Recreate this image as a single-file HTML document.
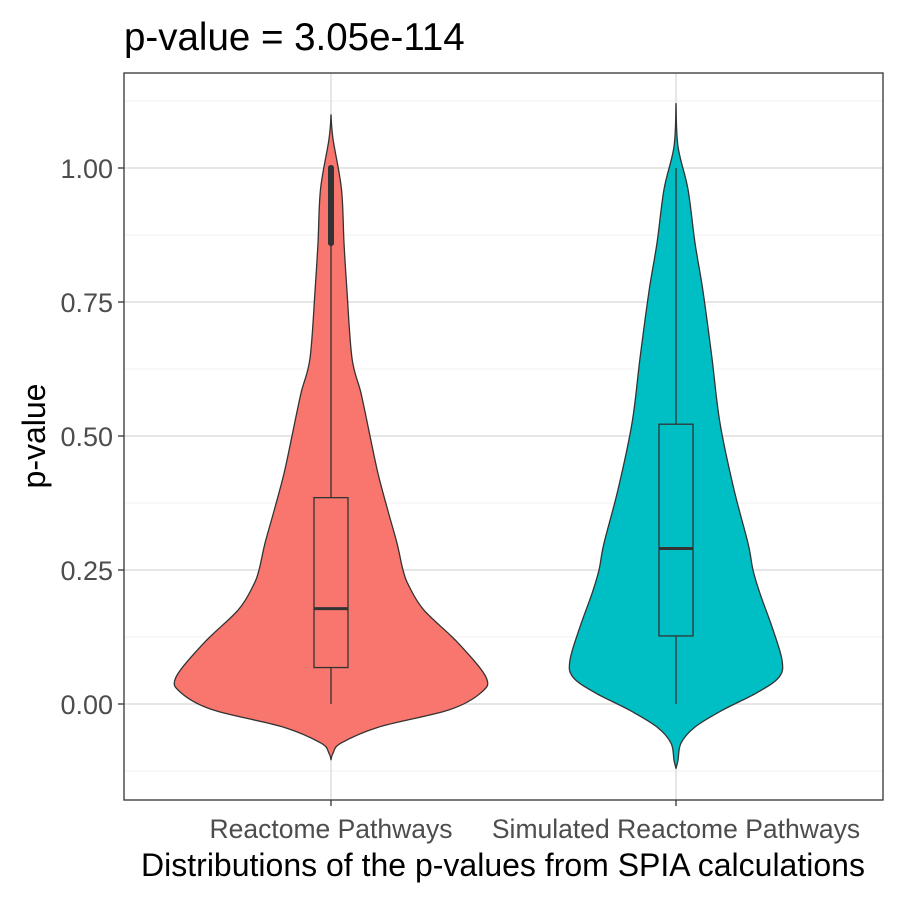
<!DOCTYPE html>
<html><head><meta charset="utf-8"><style>
body{margin:0;background:#fff;}
svg text{font-family:"Liberation Sans",sans-serif;}
</style></head><body>
<svg id="chart" width="900" height="900" xmlns="http://www.w3.org/2000/svg">
<rect width="900" height="900" fill="#fff"/>
<g id="grid"></g>
<g id="marks"></g>
<rect x="124" y="73" width="759" height="727" fill="none" stroke="#333" stroke-width="1.3"/>
<g id="axes"></g>
<text x="124" y="50" font-size="38.5" fill="#000">p-value = 3.05e-114</text>
<text x="503" y="876" font-size="32" text-anchor="middle" fill="#000">Distributions of the p-values from SPIA calculations</text>
<text transform="translate(45,436) rotate(-90)" font-size="32" text-anchor="middle" fill="#000">p-value</text>
</svg>
<script>
const categories=["Reactome Pathways","Simulated Reactome Pathways"];
const colors=["#F8766D","#00BFC4"];
const yTicks=[0,0.25,0.5,0.75,1.0];
const yTickLabels=["0.00","0.25","0.50","0.75","1.00"];
const yMinor=[-0.125,0.125,0.375,0.625,0.875,1.125];
// density profile: value -> half-width (px)
const violinVals0=[-0.104,-0.092,-0.073,-0.043,-0.011,0.021,0.05,0.114,0.175,0.22,0.25,0.3,0.36,0.43,0.5,0.58,0.645,0.77,0.86,0.96,1.054,1.099];
const violinW0=[0,2,10,48,118,150,155,127,93,78,72,66,57,47,39,30,21,16,13,10.5,2,0];
const violinVals1=[-0.12,-0.105,-0.073,-0.043,-0.011,0.021,0.05,0.082,0.144,0.206,0.25,0.3,0.4,0.524,0.645,0.77,0.86,0.96,1.04,1.12];
const violinW1=[0,2,5,19,47,81,103,106,96,84,77,72,58,44,36,27,19,12,2,0];
const q1=[0.068,0.127], med=[0.178,0.29], q3=[0.385,0.522], wLo=[0,0], wHi=[0.86,1.0];
const outliers0=[0.86,0.88,0.9,0.92,0.94,0.96,0.98,1.0];
const y=v=>704-v*536;
const x=i=>331+i*345;
const NS="http://www.w3.org/2000/svg";
function mk(t,a,p){const e=document.createElementNS(NS,t);for(const k in a)e.setAttribute(k,a[k]);p.appendChild(e);return e;}
function smooth(pts){let d='M'+pts[0][0].toFixed(1)+','+pts[0][1].toFixed(1);
 for(let i=0;i<pts.length-1;i++){const p0=pts[Math.max(0,i-1)],p1=pts[i],p2=pts[i+1],p3=pts[Math.min(pts.length-1,i+2)];
 const c1=[p1[0]+(p2[0]-p0[0])/6,p1[1]+(p2[1]-p0[1])/6],c2=[p2[0]-(p3[0]-p1[0])/6,p2[1]-(p3[1]-p1[1])/6];
 d+='C'+c1.map(v=>v.toFixed(1)).join(',')+' '+c2.map(v=>v.toFixed(1)).join(',')+' '+p2[0].toFixed(1)+','+p2[1].toFixed(1);}
 return d;}
const grid=document.getElementById('grid'),marks=document.getElementById('marks'),axes=document.getElementById('axes');
yMinor.forEach(v=>{const l=mk('line',{x1:124,x2:883,y1:y(v),y2:y(v),stroke:'#f0f0f0','stroke-width':1},grid);

});
yTicks.forEach((v,i)=>{const l=mk('line',{x1:124,x2:883,y1:y(v),y2:y(v),stroke:'#e6e6e6','stroke-width':2},grid);


const t=mk('line',{x1:118,x2:124,y1:y(v),y2:y(v),stroke:'#333','stroke-width':1.3},axes);


const tx=mk('text',{x:113,y:y(v)+10,'font-size':27,'text-anchor':'end',fill:'#4d4d4d'},axes);tx.textContent=yTickLabels[i];

});
categories.forEach((c,i)=>{const l=mk('line',{x1:x(i),x2:x(i),y1:73,y2:800,stroke:'#e6e6e6','stroke-width':2},grid);


const t=mk('line',{x1:x(i),x2:x(i),y1:800,y2:806,stroke:'#333','stroke-width':1.3},axes);


const tx=mk('text',{x:x(i),y:838,'font-size':26.5,'text-anchor':'middle',fill:'#4d4d4d'},axes);tx.textContent=c;

});
[[violinVals0,violinW0],[violinVals1,violinW1]].forEach(([vs,ws],i)=>{
 let right=vs.map((v,k)=>[x(i)+ws[k],y(v)]);
 let left=vs.map((v,k)=>[x(i)-ws[k],y(v)]).reverse();
 let d=smooth(right)+smooth(left).replace('M','L')+'Z';
 const p=mk('path',{d:d,fill:colors[i],stroke:'#333','stroke-width':1.3,'stroke-linejoin':'round'},marks);
 
 
 const w=mk('line',{x1:x(i),x2:x(i),y1:y(wLo[i]),y2:y(wHi[i]),stroke:'#333','stroke-width':1.3},marks);
 
 
 const b=mk('rect',{x:x(i)-17,y:y(q3[i]),width:34,height:y(q1[i])-y(q3[i]),fill:colors[i],stroke:'#333','stroke-width':1.3},marks);
 
 
 const m=mk('line',{x1:x(i)-17,x2:x(i)+17,y1:y(med[i]),y2:y(med[i]),stroke:'#333','stroke-width':3},marks);
 
 
});
outliers0.forEach(v=>{const c=mk('circle',{cx:x(0),cy:y(v),r:3,fill:'#333'},marks);

});
const ob=mk('line',{x1:x(0),x2:x(0),y1:y(outliers0[0]),y2:y(outliers0[outliers0.length-1]),stroke:'#333','stroke-width':6,'stroke-linecap':'round'},marks);


</script>
</body></html>
